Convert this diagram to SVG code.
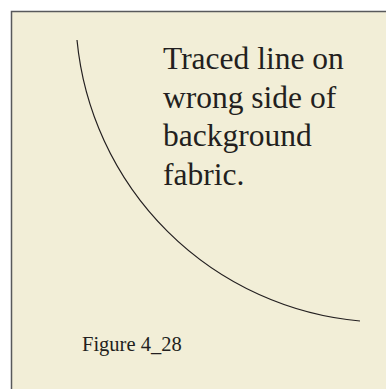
<svg xmlns="http://www.w3.org/2000/svg" width="386" height="389" viewBox="0 0 386 389">
<style>
.t{font-family:"Liberation Serif","Times New Roman",serif;fill:#231f20}
</style>
<rect width="386" height="389" fill="#ffffff"/>
<g id="panel">
<rect x="11.5" y="11.5" width="390" height="390" fill="#f2eed7" stroke="#58595b" stroke-width="1.5"/>
</g>
<g id="connectors">
<path d="M77,40 A312,312 0 0 0 360,321" fill="none" stroke="#231f20" stroke-width="1.2"/>
</g>
<g id="label">
<text class="t" font-size="31.5"><tspan x="163" y="69">Traced line on</tspan><tspan x="163" y="107.5">wrong side of</tspan><tspan x="163" y="146">background</tspan><tspan x="163" y="184.5">fabric.</tspan></text>
</g>
<g id="caption">
<text class="t" x="82" y="351" font-size="20.5">Figure 4_28</text>
</g>
</svg>
